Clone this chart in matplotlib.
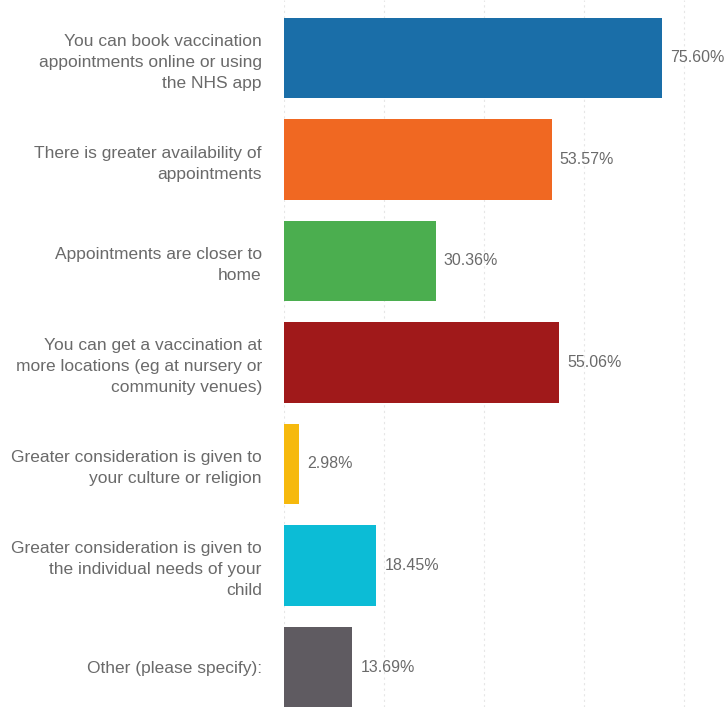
import matplotlib.pyplot as plt

categories = [
    "You can book vaccination\nappointments online or using\nthe NHS app",
    "There is greater availability of\nappointments",
    "Appointments are closer to\nhome",
    "You can get a vaccination at\nmore locations (eg at nursery or\ncommunity venues)",
    "Greater consideration is given to\nyour culture or religion",
    "Greater consideration is given to\nthe individual needs of your\nchild",
    "Other (please specify):",
]
percentages = [75.60, 53.57, 30.36, 55.06, 2.98, 18.45, 13.69]
bar_colors = ["#1a6ea8", "#f06822", "#4bae4f", "#a0191a", "#f6b90d", "#0cbcd6", "#5f5b61"]
grid_ticks = [0, 20, 40, 60, 80]

plt.rcParams['font.family'] = ['Liberation Sans', 'DejaVu Sans']

fig = plt.figure(figsize=(7.28, 7.07), dpi=100)
ax = fig.add_axes([284 / 728, 0, 1 - 284 / 728, 1])

positions = list(range(len(categories)))
ax.barh(positions, percentages, height=0.79, color=bar_colors, zorder=2)

for y, v in zip(positions, percentages):
    ax.text(v + 1.6, y, f"{v:.2f}%", va="center", ha="left",
            fontsize=11.5, color="#6a6a6a")

ax.set_xlim(0, 88.8)
ax.set_ylim(6.394, -0.571)
ax.set_xticks(grid_ticks)
ax.xaxis.grid(True, linestyle=(0, (2, 3)), color="#e6e6e6", linewidth=0.8, zorder=0)
ax.tick_params(axis="x", length=0, labelbottom=False)
ax.set_yticks(positions)
ax.set_yticklabels(categories, fontsize=12.5, color="#6a6a6a", linespacing=1.5)
ax.tick_params(axis="y", length=0, pad=16)
for side in ["top", "right", "bottom", "left"]:
    ax.spines[side].set_visible(False)

fig.savefig("out.png", dpi=100)
